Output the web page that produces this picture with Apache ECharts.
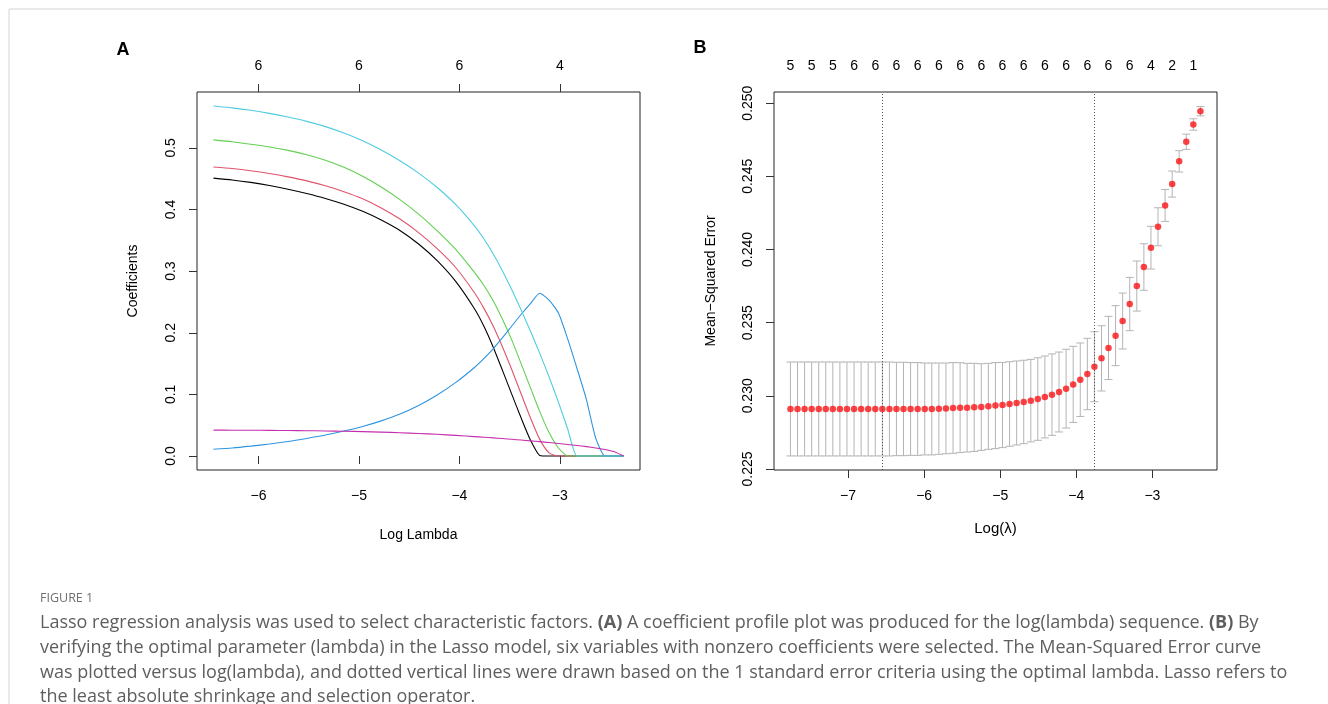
<!DOCTYPE html>
<html><head><meta charset="utf-8">
<script src="https://cdn.jsdelivr.net/npm/echarts@6/dist/echarts.min.js"></script>
<style>html,body{margin:0;padding:0;background:#fff}#c{width:1328px;height:704px}</style>
</head><body><div id="c"></div>
<script>
// ---------- Panel A: coefficient profiles ----------
const lambdaA = [-6.448,-6.262,-6.077,-5.891,-5.706,-5.520,-5.334,-5.149,-4.963,-4.778,-4.592,-4.406,-4.221,-4.035,-3.850,-3.757,-3.664,-3.571,-3.478,-3.386,-3.293,-3.200,-3.107,-3.014,-2.922,-2.829,-2.736,-2.643,-2.550,-2.458,-2.365];
const coefBlack   = [0.451,0.448,0.444,0.439,0.433,0.426,0.418,0.4085,0.397,0.383,0.366,0.344,0.317,0.283,0.239,0.211,0.177,0.139,0.100,0.062,0.026,0.001,0,0,0,0,0,0,0,0,0];
const coefRed     = [0.469,0.4665,0.463,0.4585,0.453,0.4465,0.4385,0.429,0.4175,0.4025,0.3845,0.3625,0.3365,0.3055,0.265,0.240,0.211,0.177,0.140,0.101,0.062,0.027,0.005,0,0,0,0,0,0,0,0];
const coefGreen   = [0.513,0.510,0.506,0.5015,0.496,0.489,0.480,0.4685,0.454,0.4365,0.416,0.3925,0.3655,0.335,0.298,0.277,0.252,0.222,0.188,0.150,0.111,0.072,0.038,0.013,0,0,0,0,0,0,0];
const coefCyan    = [0.568,0.565,0.561,0.556,0.550,0.543,0.5345,0.524,0.5115,0.4965,0.479,0.459,0.4357,0.4078,0.3734,0.3525,0.3283,0.3004,0.2697,0.2372,0.2028,0.1665,0.1284,0.0875,0.0438,0,0,0,0,0,0];
const coefBlue    = [0.011,0.013,0.016,0.0195,0.0235,0.0285,0.034,0.0405,0.048,0.057,0.068,0.082,0.099,0.1195,0.1437,0.158,0.174,0.192,0.211,0.2296,0.2473,0.264,0.253,0.232,0.190,0.142,0.092,0.029,0,0,0];
const coefMagenta = [0.0420,0.0419,0.0418,0.0416,0.0414,0.0411,0.0407,0.0402,0.0396,0.0388,0.0378,0.0366,0.0352,0.0335,0.0315,0.0305,0.0294,0.0283,0.0271,0.0259,0.0246,0.0233,0.0219,0.0204,0.0188,0.0171,0.0152,0.0131,0.0106,0.0068,0];
const xTicksA = [-6,-5,-4,-3];
const topLabelsA = ['6','6','6','4'];
const yTicksA = [0,0.1,0.2,0.3,0.4,0.5];

// ---------- Panel B: cross-validation curve ----------
const lambdaB = [-7.757,-7.664,-7.571,-7.478,-7.385,-7.293,-7.200,-7.107,-7.014,-6.921,-6.828,-6.735,-6.642,-6.549,-6.456,-6.364,-6.271,-6.178,-6.085,-5.992,-5.899,-5.806,-5.713,-5.620,-5.527,-5.435,-5.342,-5.249,-5.156,-5.063,-4.970,-4.877,-4.784,-4.691,-4.598,-4.506,-4.413,-4.320,-4.227,-4.134,-4.041,-3.948,-3.855,-3.762,-3.669,-3.577,-3.484,-3.391,-3.298,-3.205,-3.112,-3.019,-2.926,-2.833,-2.740,-2.648,-2.555,-2.462,-2.369];
const mseB = [0.22910,0.22910,0.22910,0.22910,0.22910,0.22910,0.22910,0.22910,0.22910,0.22910,0.22910,0.22910,0.22910,0.22910,0.22910,0.22910,0.22910,0.22910,0.22910,0.22910,0.22910,
  0.22912,0.22914,0.22917,0.22919,0.22919,0.22921,0.22923,0.22928,0.22933,0.22937,0.22944,0.22951,0.22958,0.22967,0.22978,0.22992,0.23008,0.23026,0.23049,0.23078,0.23110,0.23149,0.23199,0.23256,0.23327,0.23411,0.23511,0.23627,0.23750,0.23880,0.24012,0.24155,0.24301,0.24447,0.24602,0.24736,0.24854,0.24945];
const seB = [0.00321,0.00321,0.00321,0.00321,0.00321,0.00321,0.00321,0.00321,0.00321,0.00321,0.00321,0.00321,0.00321,0.00321,0.00321,
  0.00319,0.00319,0.00317,0.00317,0.00314,0.00314,0.00312,0.00310,0.00310,0.00307,0.00303,0.00301,0.00296,0.00294,0.00294,0.00291,0.00289,0.00287,0.00285,0.00282,0.00282,0.00280,0.00278,0.00273,0.00269,0.00260,0.00251,0.00244,0.00239,0.00223,0.00216,0.00205,0.00191,0.00182,0.00171,0.00159,0.00146,0.00130,0.00109,0.00089,0.00073,0.00052,0.00039,0.00032];
const nzeroB = ['5','5','5','6','6','6','6','6','6','6','6','6','6','6','6','6','6','4','2','1']; // shown at every third lambda
const xTicksB = [-7,-6,-5,-4,-3];
const yTicksB = [0.225,0.230,0.235,0.240,0.245,0.250];
const lambdaMinLog = -6.549;
const lambda1seLog = -3.762;

// ---------- build ----------
const FONT = 'Liberation Sans';
const minus = v => String(v).replace('-', '\u2212');
const topPosB = lambdaB.filter((v, i) => i % 3 === 0);
const topMapB = {}; topPosB.forEach((v, i) => { topMapB[v.toFixed(3)] = nzeroB[i]; });
const topMapA = {}; xTicksA.forEach((v, i) => { topMapA[v.toFixed(3)] = topLabelsA[i]; });

const labelStyle = { color: '#000', fontFamily: FONT, fontSize: 14 };
const tickStyle = { show: true, inside: false, length: 8, lineStyle: { color: '#333', width: 1 } };

function lineSeries(vals, color) {
  return {
    type: 'line', xAxisIndex: 0, yAxisIndex: 0, showSymbol: false, silent: true,
    smooth: 0.2,
    data: lambdaA.map((x, i) => [x, vals[i]]),
    lineStyle: { color: color, width: 1.1 }, z: 3
  };
}

const capFont = '"Open Sans"';
const capStyle = { font: '18px ' + capFont, fill: '#5e5e5e', verticalAlign: 'middle' };

const chart = echarts.init(document.getElementById('c'), null, { renderer: 'canvas' });
chart.setOption({
  animation: false,
  backgroundColor: '#fff',
  grid: [
    { left: 197, top: 92, width: 443, height: 378, show: true, borderColor: '#222', borderWidth: 1, backgroundColor: 'transparent' },
    { left: 774, top: 92, width: 443, height: 378, show: true, borderColor: '#222', borderWidth: 1, backgroundColor: 'transparent' }
  ],
  xAxis: [
    { type: 'value', gridIndex: 0, position: 'bottom', min: -6.612, max: -2.202,
      axisLine: { show: false }, splitLine: { show: false },
      axisTick: Object.assign({ customValues: xTicksA }, tickStyle),
      axisLabel: Object.assign({ customValues: xTicksA, margin: 19, formatter: minus }, labelStyle),
      name: 'Log Lambda', nameLocation: 'middle', nameGap: 58, nameTextStyle: labelStyle },
    { type: 'value', gridIndex: 0, position: 'top', min: -6.612, max: -2.202,
      axisLine: { show: false }, splitLine: { show: false },
      axisTick: Object.assign({ customValues: xTicksA }, tickStyle),
      axisLabel: Object.assign({ customValues: xTicksA, margin: 19, formatter: v => topMapA[v.toFixed(3)] || '' }, labelStyle) },
    { type: 'value', gridIndex: 1, position: 'bottom', min: -7.973, max: -2.151,
      axisLine: { show: false }, splitLine: { show: false },
      axisTick: Object.assign({ customValues: xTicksB }, tickStyle),
      axisLabel: Object.assign({ customValues: xTicksB, margin: 19, formatter: minus }, labelStyle),
      name: 'Log(\u03bb)', nameLocation: 'middle', nameGap: 51, nameTextStyle: Object.assign({}, labelStyle, { fontSize: 15 }) },
    { type: 'value', gridIndex: 1, position: 'top', min: -7.973, max: -2.151,
      axisLine: { show: false }, splitLine: { show: false }, axisTick: { show: false },
      axisLabel: Object.assign({ customValues: topPosB, margin: 19, formatter: v => topMapB[v.toFixed(3)] || '' }, labelStyle) }
  ],
  yAxis: [
    { type: 'value', gridIndex: 0, min: -0.0227, max: 0.5907,
      axisLine: { show: false }, splitLine: { show: false },
      axisTick: Object.assign({ customValues: yTicksA }, tickStyle),
      axisLabel: Object.assign({ customValues: yTicksA, margin: 19, rotate: 90, formatter: v => v.toFixed(1) }, labelStyle),
      name: 'Coefficients', nameLocation: 'middle', nameGap: 57, nameTextStyle: labelStyle },
    { type: 'value', gridIndex: 1, min: 0.22493, max: 0.25076,
      axisLine: { show: false }, splitLine: { show: false },
      axisTick: Object.assign({ customValues: yTicksB }, tickStyle),
      axisLabel: Object.assign({ customValues: yTicksB, margin: 19, rotate: 90, formatter: v => v.toFixed(3) }, labelStyle),
      name: 'Mean\u2212Squared Error', nameLocation: 'middle', nameGap: 56, nameTextStyle: labelStyle }
  ],
  series: [
    lineSeries(coefBlack, '#000000'),
    lineSeries(coefRed, '#DF536B'),
    lineSeries(coefGreen, '#61D04F'),
    lineSeries(coefBlue, '#2F95E0'),
    lineSeries(coefCyan, '#4FCDE0'),
    lineSeries(coefMagenta, '#C42FAE'),
    {
      type: 'custom', xAxisIndex: 2, yAxisIndex: 1, silent: true, z: 2,
      data: lambdaB.map((x, i) => [x, mseB[i], seB[i]]),
      encode: { x: 0, y: 1 },
      renderItem: (params, api) => {
        const x = api.value(0), m = api.value(1), s = api.value(2);
        const t = api.coord([x, m + s]), b = api.coord([x, m - s]);
        const w = 4;
        const st = { stroke: '#b4b4b4', lineWidth: 1 };
        return { type: 'group', children: [
          { type: 'line', shape: { x1: t[0], y1: t[1], x2: b[0], y2: b[1] }, style: st },
          { type: 'line', shape: { x1: t[0] - w, y1: t[1], x2: t[0] + w, y2: t[1] }, style: st },
          { type: 'line', shape: { x1: b[0] - w, y1: b[1], x2: b[0] + w, y2: b[1] }, style: st }
        ] };
      }
    },
    {
      type: 'scatter', xAxisIndex: 2, yAxisIndex: 1, silent: true, z: 4,
      data: lambdaB.map((x, i) => [x, mseB[i]]),
      symbol: 'circle', symbolSize: 6.5, itemStyle: { color: '#fa1418' },
      markLine: {
        silent: true, symbol: 'none', label: { show: false },
        lineStyle: { color: '#555', type: [1, 2], width: 1 },
        data: [{ xAxis: lambdaMinLog }, { xAxis: lambda1seLog }]
      }
    }
  ],
  graphic: [
    { type: 'rect', left: 6.5, top: 6.5, shape: { width: 1400, height: 800 }, style: { fill: 'none', stroke: '#d4d4d4', lineWidth: 1 }, silent: true },
    { type: 'text', x: 123, y: 50, style: { text: 'A', font: 'bold 18px "Liberation Sans"', fill: '#000', align: 'center', verticalAlign: 'middle' } },
    { type: 'text', x: 700, y: 48, style: { text: 'B', font: 'bold 18px "Liberation Sans"', fill: '#000', align: 'center', verticalAlign: 'middle' } },
    { type: 'text', x: 40, y: 598, style: { text: 'FIGURE 1', font: '12.5px ' + capFont, fill: '#707070', verticalAlign: 'middle' } },
    { type: 'text', x: 40, y: 623, style: Object.assign({ text: 'Lasso regression analysis was used to select characteristic factors. {b|(A)} A coefficient profile plot was produced for the log(lambda) sequence. {b|(B)} By', rich: { b: { font: 'bold 18px ' + capFont, fill: '#5e5e5e' } } }, capStyle) },
    { type: 'text', x: 40, y: 648, style: Object.assign({ text: 'verifying the optimal parameter (lambda) in the Lasso model, six variables with nonzero coefficients were selected. The Mean-Squared Error curve' }, capStyle) },
    { type: 'text', x: 40, y: 673, style: Object.assign({ text: 'was plotted versus log(lambda), and dotted vertical lines were drawn based on the 1 standard error criteria using the optimal lambda. Lasso refers to' }, capStyle) },
    { type: 'text', x: 40, y: 697, style: Object.assign({ text: 'the least absolute shrinkage and selection operator.' }, capStyle) }
  ]
});
</script></body></html>
